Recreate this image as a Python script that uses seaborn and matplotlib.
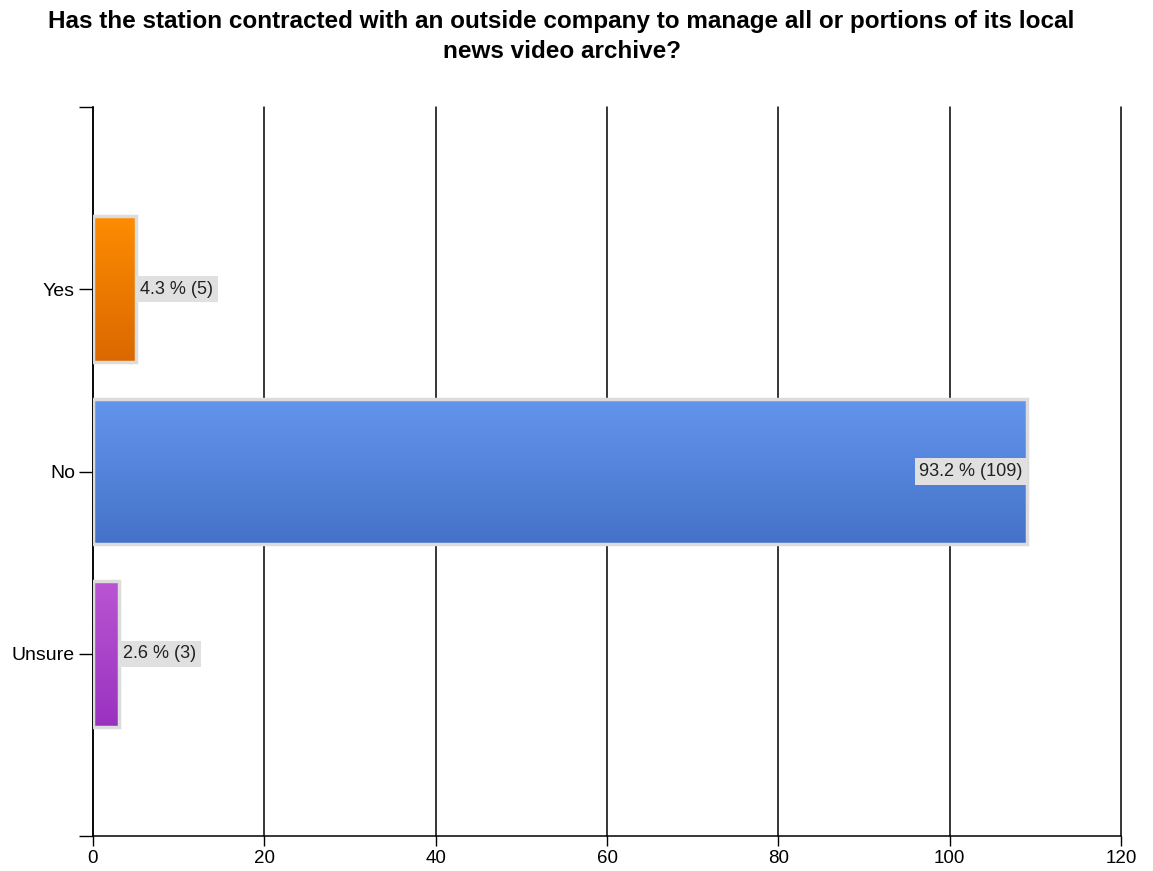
import matplotlib
matplotlib.use("Agg")
import matplotlib.pyplot as plt
import matplotlib.colors as mcolors
import numpy as np
import pandas as pd
import seaborn as sns

categories = ["Yes", "No", "Unsure"]
counts = [5, 109, 3]
percents = [4.3, 93.2, 2.6]
top_colors = ["#FF8C00", "#6495ED", "#BA55D3"]
bottom_colors = ["#DA6800", "#4472C8", "#9A32C0"]

TEXT = "#000000"

sns.set_theme(style="white")
plt.rcParams["font.family"] = ["Liberation Sans", "DejaVu Sans"]

df = pd.DataFrame({"answer": categories, "count": counts})

fig = plt.figure(figsize=(11.53, 8.71), dpi=100, facecolor="white")
ax = fig.add_axes([93 / 1153, 1 - 836 / 871, (1121 - 93) / 1153, (836 - 107) / 871])

sns.barplot(data=df, y="answer", x="count", hue="answer", palette=top_colors,
            order=categories, legend=False, width=0.8, ax=ax, zorder=3)

ax.set_xticks(range(0, 121, 20))
ax.xaxis.grid(True, color="black", linewidth=1.1, zorder=0)
for gl in ax.get_xgridlines():
    gl.set_clip_on(False)
ax.yaxis.grid(False)
ax.set_axisbelow(True)
for name in ["top", "right"]:
    ax.spines[name].set_visible(False)
for name in ["left", "bottom"]:
    ax.spines[name].set_color("black")
    ax.spines[name].set_linewidth(1.1)
ax.set_xlabel("")
ax.set_ylabel("")
ax.set_yticks([-1.0, 3.0], minor=True)
ax.tick_params(axis="y", which="both", left=True, length=10, width=1, color="black",
               labelsize=14, labelcolor=TEXT, pad=3)
ax.tick_params(axis="x", bottom=True, length=7, width=1, color="black",
               labelsize=13.5, labelcolor=TEXT, pad=3)

# gradient fill on each bar, light grey outline
for patch, c_top, c_bot in zip(ax.patches, top_colors, bottom_colors):
    x0, y0 = patch.get_x(), patch.get_y()
    w, h = patch.get_width(), patch.get_height()
    patch.set_edgecolor("#DCDCDC")
    patch.set_linewidth(2.5)
    cmap = mcolors.LinearSegmentedColormap.from_list("g", [c_top, c_bot])
    grad = np.linspace(0, 1, 256).reshape(-1, 1)
    im = ax.imshow(grad, cmap=cmap, aspect="auto", extent=[x0, x0 + w, y0 + h, y0],
                   origin="upper", zorder=3.5)
    im.set_clip_path(patch)
    patch.set_facecolor("none")
    patch.set_zorder(4)

ax.set_xlim(0, 120)
ax.set_ylim(3.0, -1.0)

box = dict(boxstyle="square,pad=0.25", facecolor="#E0E0E0", edgecolor="none")
for i, (cnt, pct) in enumerate(zip(counts, percents)):
    label = f"{pct} % ({cnt})"
    if cnt > 60:
        ax.text(cnt - 0.5, i, label, ha="right", va="center", fontsize=13,
                color="#222222", bbox=box, zorder=6)
    else:
        ax.text(cnt + 0.5, i, label, ha="left", va="center", fontsize=13,
                color="#222222", bbox=box, zorder=6)

fig.suptitle("Has the station contracted with an outside company to manage all or portions of its local\nnews video archive?",
             x=0.487, y=0.988, fontsize=17.5, fontweight="bold", color=TEXT, linespacing=1.35)

fig.savefig("out.png", dpi=100, facecolor="white")
